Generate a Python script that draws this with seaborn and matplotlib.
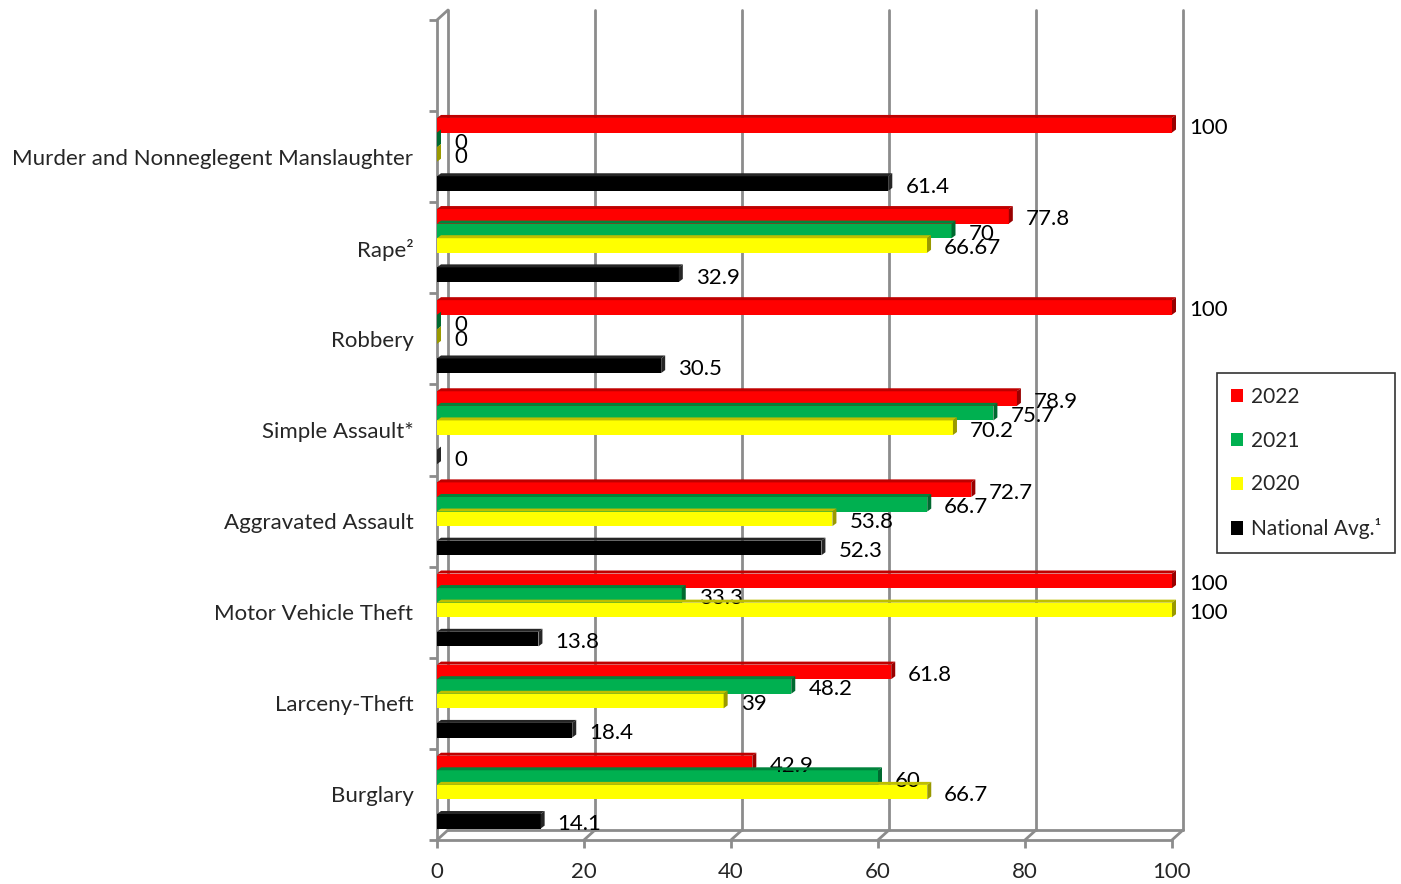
import numpy as np
import pandas as pd
import matplotlib
matplotlib.use("Agg")
import matplotlib.pyplot as plt
import seaborn as sns
from matplotlib.patches import Patch, Polygon
from matplotlib.transforms import IdentityTransform
import matplotlib.colors as mcolors

sns.set_style("white")
plt.rcParams['font.family'] = ['Lato', 'DejaVu Sans']

# ---------------- data ----------------
categories = ["", "Murder and Nonneglegent Manslaughter", "Rape\u00b2", "Robbery",
              "Simple Assault*", "Aggravated Assault", "Motor Vehicle Theft",
              "Larceny-Theft", "Burglary"]
data_categories = categories[1:]
series_names = ["2022", "2021", "2020", "National Avg.\u00b9"]
vals_2022 = [100, 77.8, 100, 78.9, 72.7, 100, 61.8, 42.9]
vals_2021 = [0, 70, 0, 75.7, 66.7, 33.3, 48.2, 60]
vals_2020 = [0, 66.67, 0, 70.2, 53.8, 100, 39, 66.7]
vals_nat = [61.4, 32.9, 30.5, 0, 52.3, 13.8, 18.4, 14.1]
x_ticks = [0, 20, 40, 60, 80, 100]
colors = {"2022": "#FF0000", "2021": "#00B050", "2020": "#FFFF00",
          " ": "#FFFFFF", "National Avg.\u00b9": "#000000"}

rows = []
for name, vals in zip(series_names, [vals_2022, vals_2021, vals_2020, vals_nat]):
    for c, v in zip(data_categories, vals):
        rows.append({"cat": c, "series": name, "val": v})
for c in data_categories:  # spacer level for the gap before the national average
    rows.append({"cat": c, "series": " ", "val": 0})
df = pd.DataFrame(rows)
hue_order = ["2022", "2021", "2020", " ", "National Avg.\u00b9"]

FS = 16
W, H = 1401, 884
fig = plt.figure(figsize=(W / 100, H / 100), dpi=100)
L, R, B, T = 437, 1172, 840, 20
ax = fig.add_axes([L / W, 1 - B / H, (R - L) / W, (B - T) / H])

sns.barplot(data=df, y="cat", x="val", hue="series", hue_order=hue_order,
            order=categories, palette=colors, orient="h", width=0.8,
            saturation=1, legend=False, ax=ax, errorbar=None, linewidth=0)

delta = 0.025
n = len(categories)
ax.set_ylim(n - 0.5 + delta, -0.5 + delta)
ax.set_xlim(0, 100)
ax.set_xlabel("")
ax.set_ylabel("")
for s in ax.spines.values():
    s.set_visible(False)

pxx = (R - L) / 100.0
pxy = (B - T) / n
gcol = "#8C8C8C"
dxu, dyu = 11 / pxx, 10 / pxy
ybot, ytop = n - 0.5 + delta, -0.5 + delta

# back wall gridlines + floor connectors
for xv in x_ticks:
    ax.plot([xv + dxu, xv + dxu], [ybot - dyu, ytop - dyu], color=gcol, lw=2, clip_on=False, zorder=0)
    ax.plot([xv, xv + dxu], [ybot, ybot - dyu], color=gcol, lw=2, clip_on=False, zorder=0)
# front axes lines
ax.plot([0, 0], [ybot, ytop], color=gcol, lw=2, clip_on=False, zorder=0.5)
ax.plot([0, dxu], [ytop, ytop - dyu], color=gcol, lw=2, clip_on=False, zorder=0.5)
ax.plot([0, 100], [ybot, ybot], color=gcol, lw=2, clip_on=False, zorder=0.5)
ax.plot([0 + dxu, 100 + dxu], [ybot - dyu, ybot - dyu], color=gcol, lw=2, clip_on=False, zorder=0.5)

# ticks
ax.set_xticks(x_ticks)
ax.set_xticklabels([str(t) for t in x_ticks], fontsize=FS)
ax.tick_params(axis="x", length=6, width=2, color=gcol, pad=10, bottom=True)
ax.set_yticks(np.arange(n) + delta)
ax.set_yticklabels(categories, fontsize=FS)
ax.tick_params(axis="y", which="major", length=0, pad=17)
ax.set_yticks(np.arange(n + 1) - 0.5 + delta, minor=True)
ax.tick_params(axis="y", which="minor", length=6, width=2, color=gcol, left=True)

# 3D faces and value labels
fig.canvas.draw()
ddx, ddy = 4, 3
for p in list(ax.patches):
    fc = p.get_facecolor()
    if mcolors.to_hex(fc) == "#ffffff":
        continue
    x0, y0 = p.get_x(), p.get_y()
    w, h = p.get_width(), p.get_height()
    (lx, by), (rx, ty) = ax.transData.transform([(x0, y0 + h), (x0 + w, y0)])
    dark = np.array(mcolors.to_rgb(fc)) * 0.75
    darker = np.array(mcolors.to_rgb(fc)) * 0.6
    if mcolors.to_hex(fc) == "#000000":
        dark = darker = np.array([0.15, 0.15, 0.15])
    top = Polygon([(lx, ty), (rx, ty), (rx + ddx, ty + ddy), (lx + ddx, ty + ddy)],
                  closed=True, transform=IdentityTransform(), facecolor=dark, edgecolor="none", zorder=3)
    side = Polygon([(rx, by), (rx, ty), (rx + ddx, ty + ddy), (rx + ddx, by + ddy)],
                   closed=True, transform=IdentityTransform(), facecolor=darker, edgecolor="none", zorder=3)
    fig.add_artist(top)
    fig.add_artist(side)
    ax.annotate(f"{w:g}", xy=(x0 + w, y0 + h / 2), xytext=(17, -3), textcoords="offset pixels",
                ha="left", va="center", fontsize=FS, color="black", zorder=5)

handles = [Patch(facecolor=colors[s], edgecolor="none") for s in series_names]
leg = fig.legend(handles, series_names, loc="upper left",
                 bbox_to_anchor=(1217 / W, 1 - 373 / H), frameon=True, fancybox=False,
                 edgecolor="black", fontsize=15, handlelength=0.6, handleheight=0.6,
                 labelspacing=1.15, borderpad=0.65, handletextpad=0.4, borderaxespad=0)
leg.get_frame().set_linewidth(1.2)

fig.savefig("out.png", dpi=100)
